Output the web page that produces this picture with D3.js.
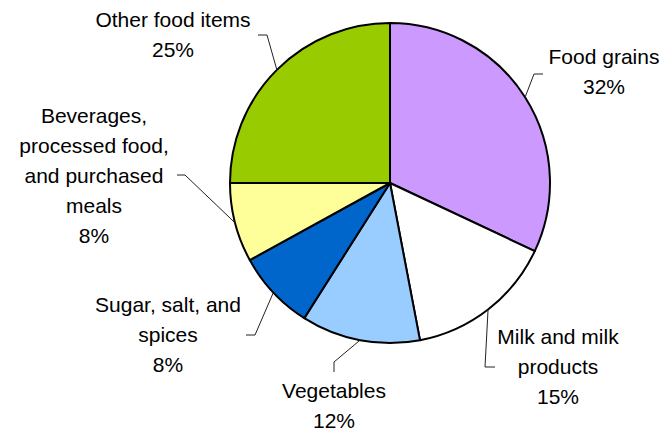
<!DOCTYPE html>
<html>
<head>
<meta charset="utf-8">
<script src="https://cdn.jsdelivr.net/npm/d3@7"></script>
<style>
  html, body { margin: 0; padding: 0; background: #fff; }
  svg { display: block; }
  text { font-family: "Liberation Sans", Arial, sans-serif; font-size: 21px; fill: #000; }
</style>
</head>
<body>
<svg id="chart" width="663" height="433"></svg>
<script>
// Household food expenditure shares, clockwise from 12 o'clock
const categories = ["Food grains", "Milk and milk products", "Vegetables",
  "Sugar, salt, and spices", "Beverages, processed food, and purchased meals", "Other food items"];
const shares = [32, 15, 12, 8, 8, 25];
const colors = ["#CC99FF", "#FFFFFF", "#99CCFF", "#0066CC", "#FFFF99", "#99CC00"];

// Label text broken into lines, last line is the percentage
const labelLines = [
  ["Food grains"],
  ["Milk and milk", "products"],
  ["Vegetables"],
  ["Sugar, salt, and", "spices"],
  ["Beverages,", "processed food,", "and purchased", "meals"],
  ["Other food items"]
];
// Label anchor (centre x, first baseline y) and leader elbow/end points
const labelPos = [
  {x: 604, y: 64,  elbow: [534, 74],  end: [543, 74]},
  {x: 558, y: 344, elbow: [485, 367], end: [495, 367]},
  {x: 334, y: 398, elbow: [334, 362], end: [334, 372]},
  {x: 168, y: 312, elbow: [255, 335], end: [246, 335]},
  {x: 94,  y: 123, elbow: [185, 175], end: [177, 175]},
  {x: 173, y: 27,  elbow: [267, 35],  end: [258, 35]}
];

const svg = d3.select("#chart");
const cx = 390, cy = 183, r = 160;
const lineH = 30;

const pie = d3.pie().sort(null).value(d => d)(shares);
const arc = d3.arc().innerRadius(0).outerRadius(r);
const edge = d3.arc().innerRadius(r).outerRadius(r);

const g = svg.append("g").attr("transform", `translate(${cx},${cy})`);

g.selectAll("path.slice")
  .data(pie)
  .join("path")
  .attr("class", "slice")
  .attr("d", arc)
  .attr("fill", (d, i) => colors[i])
  .attr("stroke", "#000")
  .attr("stroke-width", 2)
  .attr("stroke-linejoin", "round");

// Leader lines from slice edge to label
svg.selectAll("polyline.leader")
  .data(pie)
  .join("polyline")
  .attr("class", "leader")
  .attr("fill", "none")
  .attr("stroke", "#222")
  .attr("stroke-width", 1)
  .attr("points", (d, i) => {
    const [ex, ey] = edge.centroid(d);
    const p = labelPos[i];
    return [[cx + ex, cy + ey], p.elbow, p.end].map(q => q.join(",")).join(" ");
  });

// Labels
const labels = svg.selectAll("text.label")
  .data(pie)
  .join("text")
  .attr("class", "label")
  .attr("text-anchor", "middle");

labels.each(function(d, i) {
  const t = d3.select(this);
  const p = labelPos[i];
  const lines = labelLines[i].concat([d3.format(".0f")(d.value) + "%"]);
  lines.forEach((s, k) => {
    t.append("tspan").attr("x", p.x).attr("y", p.y + k * lineH).text(s);
  });
});
</script>
</body>
</html>
